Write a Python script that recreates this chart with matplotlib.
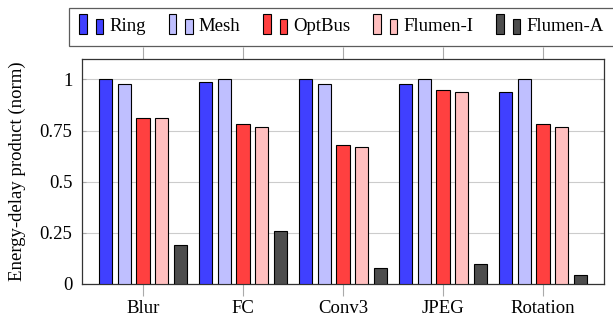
import numpy as np
import matplotlib
matplotlib.use("Agg")
import matplotlib.pyplot as plt
from matplotlib.patches import Rectangle
from matplotlib.legend_handler import HandlerBase

plt.rcParams['font.family'] = ['Liberation Serif', 'DejaVu Serif']
plt.rcParams['font.size'] = 13.5

# data
benchmarks = ['Blur', 'FC', 'Conv3', 'JPEG', 'Rotation']
series_names = ['Ring', 'Mesh', 'OptBus', 'Flumen-I', 'Flumen-A']
ring = [1.00, 0.99, 1.00, 0.98, 0.94]
mesh = [0.98, 1.00, 0.98, 1.00, 1.00]
optbus = [0.81, 0.78, 0.68, 0.95, 0.78]
flumen_i = [0.81, 0.77, 0.67, 0.94, 0.77]
flumen_a = [0.19, 0.26, 0.078, 0.097, 0.042]
yticks = [0, 0.25, 0.5, 0.75, 1]
ytick_labels = ['0', '0.25', '0.5', '0.75', '1']

colors = ['#4040ff', '#bfbfff', '#ff4040', '#ffbfbf', '#4d4d4d']


# pgfplots-like legend image: two small bars
class TwoBarHandler(HandlerBase):
    def create_artists(self, legend, orig_handle, xdescent, ydescent,
                       width, height, fontsize, trans):
        fc = orig_handle.get_facecolor()
        y0 = -ydescent - 0.2 * height
        bw = width * 0.32
        r1 = Rectangle((-xdescent, y0), bw, height * 1.5,
                       facecolor=fc, edgecolor='black', lw=0.8, transform=trans)
        r2 = Rectangle((-xdescent + width - bw, y0), bw, height * 1.12,
                       facecolor=fc, edgecolor='black', lw=0.8, transform=trans)
        return [r1, r2]


fig = plt.figure(figsize=(6.13, 3.2), dpi=100)
ax = fig.add_axes([0.1338, 0.1125, 0.8515, 0.7031])

x = np.arange(len(benchmarks))
pitch = 0.187
width = 0.133
data = [ring, mesh, optbus, flumen_i, flumen_a]
handles = []
for i, vals in enumerate(data):
    b = ax.bar(x + (i - 2) * pitch, vals, width, color=colors[i],
               edgecolor='black', linewidth=0.8, label=series_names[i], zorder=3)
    handles.append(b.patches[0])

ax.set_xlim(-0.61, 4.61)
ax.set_ylim(0, 1.1)
ax.set_xticks(x)
ax.set_xticklabels(benchmarks)
ax.set_yticks(yticks)
ax.set_yticklabels(ytick_labels)
ax.set_ylabel('Energy-delay product (norm)', labelpad=10)

ax.grid(axis='y', color='#cccccc', lw=0.8, zorder=0)
ax.set_axisbelow(True)
ax.tick_params(axis='x', which='both', direction='out', length=8.5, color='#aaaaaa',
               top=True, bottom=True, labeltop=False, pad=3)
ax.tick_params(axis='y', which='both', direction='in', length=3, color='#aaaaaa',
               left=True, right=True, pad=7)
for s in ax.spines.values():
    s.set_color('#333333')
    s.set_linewidth(0.9)

leg = ax.legend(handles, series_names, handler_map={Rectangle: TwoBarHandler()},
                loc='lower center', bbox_to_anchor=(0.497, 1.058), ncol=5,
                frameon=True, fancybox=False, edgecolor='#333333',
                handlelength=1.28, handletextpad=0.32, columnspacing=1.22,
                borderpad=0.56, borderaxespad=0, fontsize=13.5)
leg.get_frame().set_linewidth(0.9)

fig.savefig('out.png', dpi=100)
